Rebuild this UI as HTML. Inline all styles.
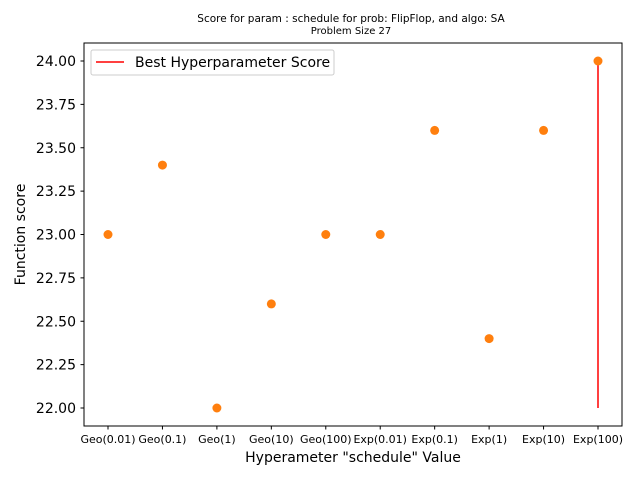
<!DOCTYPE html>
<html><head><meta charset="utf-8"><style>
body{margin:0;background:#fff;}
svg{display:block;font-family:"DejaVu Sans","Liberation Sans",sans-serif;}
</style></head><body>
<svg id="chart" width="640" height="480" xmlns="http://www.w3.org/2000/svg">
<rect width="640" height="480" fill="#fff"/>
<text x="351" y="22" font-size="10.5" text-anchor="middle">Score for param : schedule for prob: FlipFlop, and algo: SA</text>
<text x="351" y="34" font-size="10" text-anchor="middle">Problem Size 27</text>
<g id="plot"></g>
<rect x="84" y="43" width="538" height="383" fill="none" stroke="#000" stroke-width="1"/>
<text x="353" y="462" font-size="14" text-anchor="middle">Hyperameter "schedule" Value</text>
<text transform="translate(25,234.5) rotate(-90)" font-size="14" text-anchor="middle">Function score</text>
<g>
<rect x="91" y="50" width="243" height="25" rx="2" fill="#fff" stroke="#ccc" stroke-width="1"/>
<line x1="96" y1="62" x2="124" y2="62" stroke="red" stroke-width="1.5"/>
<text x="135" y="67" font-size="14">Best Hyperparameter Score</text>
</g>
</svg>
<script>
const categories=["Geo(0.01)","Geo(0.1)","Geo(1)","Geo(10)","Geo(100)","Exp(0.01)","Exp(0.1)","Exp(1)","Exp(10)","Exp(100)"];
const values=[23.0,23.4,22.0,22.6,23.0,23.0,23.6,22.4,23.6,24.0];
const yTicks=[22.0,22.25,22.5,22.75,23.0,23.25,23.5,23.75,24.0];
const bestRange=[22.0,24.0];
const NS="http://www.w3.org/2000/svg";
const g=document.getElementById('plot');
const x0=108,x1=598;
function xs(i){return x0+(x1-x0)*i/(categories.length-1);}
function ys(v){return 408-(v-22)*(408-61)/2;}
function mk(t,a){const e=document.createElementNS(NS,t);for(const k in a)e.setAttribute(k,a[k]);g.appendChild(e);return e;}
yTicks.forEach(v=>{
  const y=ys(v);
  const t=mk('line',{x1:80.5,x2:84,y1:y,y2:y,stroke:'#000'});
  
  
  const l=mk('text',{x:76,y:y+5,'font-size':14,'text-anchor':'end'});
  l.textContent=v.toFixed(2);
  
  
});
categories.forEach((c,i)=>{
  const x=xs(i);
  const t=mk('line',{x1:x,x2:x,y1:426,y2:429.5,stroke:'#000'});
  
  
  const l=mk('text',{x:x,y:443,'font-size':11,'text-anchor':'middle'});
  l.textContent=c;
  
  
});
let best=0;values.forEach((v,i)=>{if(v>values[best])best=i;});
const bl=mk('line',{x1:xs(best),x2:xs(best),y1:ys(bestRange[0]),y2:ys(bestRange[1]),stroke:'red','stroke-width':1.5});


values.forEach((v,i)=>{
  const p=mk('circle',{cx:xs(i),cy:ys(v),r:4.5,fill:'#ff7f0e'});
  
  
});
</script>
</body></html>
